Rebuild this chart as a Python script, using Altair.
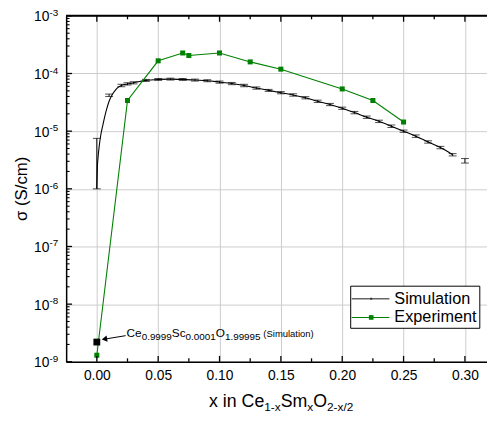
import altair as alt
import pandas as pd

# ---------------- data ----------------
# Simulation curve (line)
sim_line_x = [0.0, 0.0005, 0.001, 0.002, 0.003, 0.005, 0.0075, 0.01, 0.0125, 0.015,
              0.0175, 0.02, 0.025, 0.03, 0.04, 0.05, 0.06, 0.07, 0.08, 0.09,
              0.10, 0.11, 0.12, 0.13, 0.14, 0.15, 0.16, 0.17, 0.18, 0.19,
              0.20, 0.21, 0.22, 0.23, 0.24, 0.25, 0.26, 0.27, 0.28, 0.29]
sim_line_y = [1.0e-6, 2.5e-6, 3.5e-6, 5.6e-6, 8.0e-6, 1.3e-5, 2.2e-5, 3.3e-5, 4.3e-5, 5.1e-5,
              5.8e-5, 6.2e-5, 6.6e-5, 6.9e-5, 7.6e-5, 7.9e-5, 8.0e-5, 7.9e-5, 7.7e-5, 7.5e-5,
              7.1e-5, 6.7e-5, 6.2e-5, 5.6e-5, 5.1e-5, 4.65e-5, 4.25e-5, 3.8e-5, 3.3e-5, 2.9e-5,
              2.5e-5, 2.1e-5, 1.75e-5, 1.48e-5, 1.22e-5, 1.0e-5, 8.2e-6, 6.5e-6, 5.2e-6, 3.9e-6]

# Simulation error bars
sim_err_x = [0.0, 0.01, 0.02, 0.025, 0.03, 0.04, 0.05, 0.06, 0.07, 0.08, 0.09,
             0.10, 0.11, 0.12, 0.13, 0.14, 0.15, 0.16, 0.17, 0.18, 0.19,
             0.20, 0.21, 0.22, 0.23, 0.24, 0.25, 0.26, 0.27, 0.28, 0.29, 0.30]
sim_err_lo = [1.0e-6, 4.0e-5, 5.9e-5, 6.3e-5, 6.6e-5, 7.3e-5, 7.6e-5, 7.7e-5, 7.6e-5, 7.4e-5, 7.2e-5,
              6.8e-5, 6.4e-5, 5.9e-5, 5.35e-5, 4.9e-5, 4.45e-5, 4.05e-5, 3.63e-5, 3.15e-5, 2.77e-5,
              2.39e-5, 2.0e-5, 1.67e-5, 1.41e-5, 1.16e-5, 9.55e-6, 7.8e-6, 6.2e-6, 4.95e-6, 3.72e-6, 2.8e-6]
sim_err_hi = [7.5e-6, 4.4e-5, 6.5e-5, 6.9e-5, 7.2e-5, 7.9e-5, 8.2e-5, 8.3e-5, 8.2e-5, 8.0e-5, 7.8e-5,
              7.4e-5, 7.0e-5, 6.5e-5, 5.85e-5, 5.3e-5, 4.85e-5, 4.45e-5, 3.97e-5, 3.45e-5, 3.03e-5,
              2.61e-5, 2.2e-5, 1.83e-5, 1.55e-5, 1.28e-5, 1.045e-5, 8.6e-6, 6.8e-6, 5.45e-6, 4.08e-6, 3.35e-6]

# Experiment
exp_x = [0.0, 0.025, 0.05, 0.07, 0.075, 0.10, 0.125, 0.15, 0.20, 0.225, 0.25]
exp_y = [1.3e-9, 3.4e-5, 1.66e-4, 2.27e-4, 2.05e-4, 2.27e-4, 1.59e-4, 1.19e-4, 5.4e-5, 3.4e-5, 1.44e-5]

# Single simulation point for Ce0.9999Sc0.0001O1.99995
anno_x = [0.0]
anno_y = [2.2e-9]
arrow_x = [0.0235, 0.0062]
arrow_y = [2.84e-9, 2.47e-9]

# Axis tick values
x_major = [0.0, 0.05, 0.10, 0.15, 0.20, 0.25, 0.30]
x_minor = [0.025, 0.075, 0.125, 0.175, 0.225, 0.275]
y_major = [1e-9, 1e-8, 1e-7, 1e-6, 1e-5, 1e-4, 1e-3]
y_exp = ["-9", "-8", "-7", "-6", "-5", "-4", "-3"]
y_minor = [m * 10.0 ** e for e in range(-9, -3) for m in range(2, 10)]

# ---------------- layout ----------------
W, H = 427, 351
FONT = "Liberation Sans"
GREEN = "#008000"
GRID = "#cccccc"

xs = alt.Scale(domain=[-0.025, 0.318], nice=False, zero=False)
ys = alt.Scale(type="log", domain=[1e-9, 1e-3], nice=False)

x_ax = alt.Axis(values=x_major, grid=True, gridColor=GRID, gridWidth=1, ticks=False,
                domain=True, domainColor="black", domainWidth=1.5, labelFontSize=14,
                labelFont=FONT, labelColor="black", labelPadding=7, format=".2f", title=None)
y_ax = alt.Axis(values=y_major, grid=True, gridColor=GRID, gridWidth=1, ticks=False,
                domain=True, domainColor="black", domainWidth=1.5, labels=False, title=None)


def X(f="x"):
    return alt.X(f"{f}:Q", scale=xs, axis=x_ax)


def Y(f="y"):
    return alt.Y(f"{f}:Q", scale=ys, axis=y_ax)


one = pd.DataFrame({"a": [0]})

sim_df = pd.DataFrame({"x": sim_line_x, "y": sim_line_y})
err_df = pd.DataFrame({"x": sim_err_x, "lo": sim_err_lo, "hi": sim_err_hi})
exp_df = pd.DataFrame({"x": exp_x, "y": exp_y})
anno_df = pd.DataFrame({"x": anno_x, "y": anno_y})
arrow_df = pd.DataFrame({"x": arrow_x, "y": arrow_y})

sim_line = alt.Chart(sim_df).mark_line(color="black", strokeWidth=1.1, interpolate="monotone").encode(
    x=X(), y=Y())
err_rule = alt.Chart(err_df).mark_rule(color="black", strokeWidth=1).encode(
    x=X(), y=Y("lo"), y2="hi:Q")
err_cap_lo = alt.Chart(err_df).mark_tick(color="black", orient="horizontal", size=8, thickness=1).encode(
    x=X(), y=Y("lo"))
err_cap_hi = alt.Chart(err_df).mark_tick(color="black", orient="horizontal", size=8, thickness=1).encode(
    x=X(), y=Y("hi"))

exp_line = alt.Chart(exp_df).mark_line(color=GREEN, strokeWidth=1.1).encode(x=X(), y=Y())
exp_pts = alt.Chart(exp_df).mark_point(shape="square", filled=True, color=GREEN, size=26, opacity=1).encode(
    x=X(), y=Y())

anno_pt = alt.Chart(anno_df).mark_point(shape="square", filled=True, color="black", size=48, opacity=1).encode(
    x=X(), y=Y())
arrow_line = alt.Chart(arrow_df).mark_line(color="black", strokeWidth=1).encode(x=X(), y=Y())
arrow_head = alt.Chart(arrow_df.iloc[[1]]).mark_point(shape="triangle-left", filled=True, color="black",
                                                       size=40, angle=350, opacity=1).encode(x=X(), y=Y())

# inward ticks
xmaj_df = pd.DataFrame({"x": x_major})
xmin_df = pd.DataFrame({"x": x_minor})
ymaj_df = pd.DataFrame({"y": y_major, "e": y_exp})
ymin_df = pd.DataFrame({"y": y_minor})

tick_layers = [
    alt.Chart(xmaj_df).mark_rule(color="black", strokeWidth=1.3).encode(x=X(), y=alt.value(H), y2=alt.value(H - 6)),
    alt.Chart(xmaj_df).mark_rule(color="black", strokeWidth=1.3).encode(x=X(), y=alt.value(0), y2=alt.value(6)),
    alt.Chart(xmin_df).mark_rule(color="black", strokeWidth=1.3).encode(x=X(), y=alt.value(H), y2=alt.value(H - 3.5)),
    alt.Chart(xmin_df).mark_rule(color="black", strokeWidth=1.3).encode(x=X(), y=alt.value(0), y2=alt.value(3.5)),
    alt.Chart(ymaj_df).mark_rule(color="black", strokeWidth=1.3).encode(y=Y(), x=alt.value(0), x2=alt.value(6)),
    alt.Chart(ymin_df).mark_rule(color="black", strokeWidth=1.1).encode(y=Y(), x=alt.value(0), x2=alt.value(3.5)),
]
top_line = alt.Chart(one).mark_rule(color="black", strokeWidth=2).encode(
    x=alt.value(0), x2=alt.value(W), y=alt.value(0))

# y tick labels as 10^n
ylab_base = alt.Chart(ymaj_df).mark_text(text="10", align="right", baseline="middle", fontSize=14,
                                         font=FONT, color="black", dy=1.5).encode(y=Y(), x=alt.value(-17))
ylab_exp = alt.Chart(ymaj_df).mark_text(align="right", baseline="middle", fontSize=10,
                                        font=FONT, color="black", dy=-3).encode(y=Y(), x=alt.value(-8), text="e:N")

# ---------------- text with sub-/superscripts ----------------
AW = {'x': 500, ' ': 278, 'i': 222, 'n': 556, 'C': 722, 'e': 556, '1': 556, '-': 333, 'S': 667,
      'm': 833, 'O': 778, '2': 556, '/': 278, '0': 556, '.': 278, '9': 556, 'c': 500, '5': 556,
      '(': 333, ')': 333, 'u': 556, 'l': 222, 'a': 556, 't': 278, 'o': 556}


def tw(s, fs):
    return sum(AW.get(ch, 556) for ch in s) * fs / 1000.0


def rich(segments, x0, y0):
    layers = []
    x = x0
    for txt, fs, dy in segments:
        layers.append(alt.Chart(one).mark_text(text=txt, fontSize=fs, font=FONT, color="black",
                                                align="left", baseline="alphabetic").encode(
            x=alt.value(x), y=alt.value(y0 + dy)))
        x += tw(txt, fs)
    return layers


xtitle = rich([("x in Ce", 18, 0), ("1-x", 12, 4), ("Sm", 18, 0), ("x", 12, 4),
               ("O", 18, 0), ("2-x/2", 12, 4)], 145, 397)
anno_txt = rich([("Ce", 12, 0), ("0.9999", 10, 3), ("Sc", 12, 0), ("0.0001", 10, 3),
                 ("O", 12, 0), ("1.99995", 10, 3), (" ", 10, 0), ("(Simulation)", 9.6, 0)], 61.3, 325.5)

ytitle = alt.Chart(one).mark_text(text="σ (S/cm)", fontSize=17, font=FONT, color="black", angle=270,
                                  align="center", baseline="middle").encode(x=alt.value(-45), y=alt.value(H / 2))

# ---------------- legend ----------------
LX0, LX1, LY0, LY1 = 288.7, 419.7, 274.3, 317.0
leg = [
    alt.Chart(one).mark_rect(fill="white", stroke="black", strokeWidth=1).encode(
        x=alt.value(LX0), x2=alt.value(LX1), y=alt.value(LY0), y2=alt.value(LY1)),
    alt.Chart(one).mark_rule(color="#666666", strokeWidth=1.6).encode(
        x=alt.value(LX0 + 1), x2=alt.value(328), y=alt.value(287)),
    alt.Chart(one).mark_point(shape="square", filled=True, color="#333333", size=4, opacity=1).encode(
        x=alt.value(309.5), y=alt.value(287)),
    alt.Chart(one).mark_rule(color=GREEN, strokeWidth=1.1).encode(
        x=alt.value(LX0 + 1), x2=alt.value(328), y=alt.value(306)),
    alt.Chart(one).mark_point(shape="square", filled=True, color=GREEN, size=22, opacity=1).encode(
        x=alt.value(309.5), y=alt.value(306)),
    alt.Chart(one).mark_text(text="Simulation", fontSize=16.5, font=FONT, color="black", align="left",
                             baseline="middle").encode(x=alt.value(333), y=alt.value(287)),
    alt.Chart(one).mark_text(text="Experiment", fontSize=16.5, font=FONT, color="black", align="left",
                             baseline="middle").encode(x=alt.value(333), y=alt.value(306)),
]

chart = alt.layer(
    sim_line, err_rule, err_cap_lo, err_cap_hi,
    exp_line, exp_pts,
    arrow_line, arrow_head, anno_pt,
    *tick_layers, top_line,
    ylab_base, ylab_exp, ytitle,
    *xtitle, *anno_txt,
    *leg,
).properties(
    width=W, height=H,
    autosize=alt.AutoSizeParams(type="none"),
    padding={"left": 59, "top": 5, "right": 0, "bottom": 50},
).configure_view(stroke=None).configure(background="white")

chart.save("out.html", embed_options={"renderer": "svg", "actions": False})
